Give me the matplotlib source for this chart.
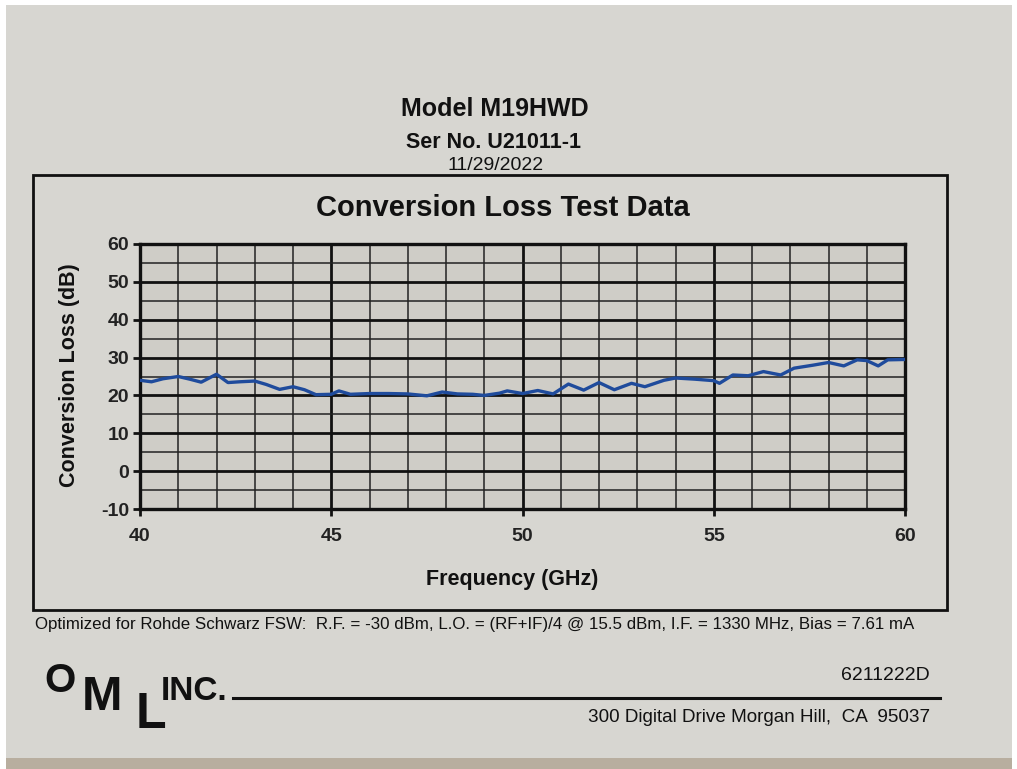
import matplotlib
matplotlib.use("Agg")
import matplotlib.pyplot as plt
from matplotlib.patches import Rectangle
from matplotlib.lines import Line2D
from matplotlib.ticker import MultipleLocator

# ---- data ----
freq_ghz = [40.0, 40.3, 40.6, 41.0, 41.3, 41.6, 42.0, 42.3, 42.6, 43.0, 43.3, 43.65,
            44.0, 44.3, 44.6, 45.0, 45.2, 45.5, 46.0, 46.5, 47.0, 47.5, 47.9, 48.3,
            48.7, 49.0, 49.4, 49.6, 50.0, 50.4, 50.8, 51.2, 51.6, 52.0, 52.4, 52.85,
            53.2, 53.7, 54.0, 54.5, 55.0, 55.15, 55.5, 55.9, 56.3, 56.75, 57.1, 57.6,
            58.0, 58.4, 58.75, 59.0, 59.3, 59.55, 60.0]
conv_loss_db = [24.0, 23.6, 24.4, 25.0, 24.3, 23.5, 25.6, 23.4, 23.6, 23.8, 22.9, 21.6,
                22.3, 21.5, 20.2, 20.3, 21.2, 20.3, 20.5, 20.5, 20.4, 19.9, 20.9, 20.4,
                20.3, 20.0, 20.6, 21.2, 20.5, 21.3, 20.4, 23.0, 21.4, 23.4, 21.5, 23.2,
                22.3, 24.0, 24.6, 24.3, 23.9, 23.2, 25.4, 25.2, 26.3, 25.4, 27.2, 28.0,
                28.7, 27.8, 29.4, 29.2, 27.8, 29.4, 29.5]
x_ticks = [40, 45, 50, 55, 60]
y_ticks = [-10, 0, 10, 20, 30, 40, 50, 60]

W, H = 1017, 769
PAPER = "#d7d6d1"
PLOT_BG = "#cfcdc7"
INK = "#111111"
FONT = "Liberation Sans"

plt.rcParams['font.family'] = [FONT, 'DejaVu Sans']
plt.rcParams['axes.unicode_minus'] = False

fig = plt.figure(figsize=(W / 100, H / 100), dpi=100)
fig.patch.set_facecolor("white")


def fx(x):
    return x / W


def fy(y):
    return 1 - y / H


# paper background (photo of a printed sheet)
fig.add_artist(Rectangle((fx(6), fy(758)), fx(1012) - fx(6), fy(5) - fy(758),
                         transform=fig.transFigure, facecolor=PAPER, edgecolor="none", zorder=0))
fig.add_artist(Rectangle((fx(6), 0), fx(1012) - fx(6), fy(758),
                         transform=fig.transFigure, facecolor="#b8ae9f", edgecolor="none", zorder=0))

# chart frame
fig.add_artist(Rectangle((fx(33), fy(610)), fx(947) - fx(33), fy(175) - fy(610),
                         transform=fig.transFigure, facecolor="none", edgecolor=INK,
                         linewidth=2.0, zorder=2))

# header text
fig.text(fx(495), fy(109), "Model M19HWD", ha="center", va="center",
         fontsize=18, fontweight="bold", color=INK)
fig.text(fx(494), fy(142), "Ser No. U21011-1", ha="center", va="center",
         fontsize=15.5, fontweight="bold", color=INK)
fig.text(fx(496), fy(166), "11/29/2022", ha="center", va="center",
         fontsize=14, color=INK)
fig.text(fx(503), fy(208), "Conversion Loss Test Data", ha="center", va="center",
         fontsize=21, fontweight="bold", color=INK)

# plot axes
ax = fig.add_axes([fx(140), fy(509), fx(905) - fx(140), fy(244) - fy(509)])
ax.set_facecolor(PLOT_BG)
ax.plot(freq_ghz, conv_loss_db, color="#1f4b9c", linewidth=2.4,
        solid_joinstyle="round", solid_capstyle="round", zorder=5)
ax.set_xlim(40, 60)
ax.set_ylim(-10, 60)
ax.set_xticks(x_ticks)
ax.set_yticks(y_ticks)
ax.xaxis.set_minor_locator(MultipleLocator(1))
ax.yaxis.set_minor_locator(MultipleLocator(5))
ax.grid(which="major", color=INK, linewidth=2.0, zorder=1)
ax.grid(which="minor", color="#222222", linewidth=1.1, zorder=1)
ax.set_axisbelow(True)
for s in ax.spines.values():
    s.set_linewidth(2.4)
    s.set_color(INK)
ax.tick_params(which="major", direction="out", length=5, width=2, color=INK,
               labelsize=14)
ax.tick_params(which="minor", length=0)
for lab in ax.get_xticklabels() + ax.get_yticklabels():
    lab.set_fontweight("bold")
    lab.set_color("#222222")
ax.tick_params(axis="x", pad=9)
ax.tick_params(axis="y", pad=3)

fig.text(fx(70), fy(375), "Conversion Loss (dB)", ha="center", va="center",
         rotation=90, fontsize=15.5, fontweight="bold", color=INK)
fig.text(fx(512), fy(579), "Frequency (GHz)", ha="center", va="center",
         fontsize=15.5, fontweight="bold", color=INK)

# footer note
fig.text(fx(35), fy(625),
         "Optimized for Rohde Schwarz FSW:  R.F. = -30 dBm, L.O. = (RF+IF)/4 @ 15.5 dBm, "
         "I.F. = 1330 MHz, Bias = 7.61 mA",
         ha="left", va="center", fontsize=12.2, color=INK)

# OML logo
fig.text(fx(44), fy(692), "O", ha="left", va="baseline", fontsize=29,
         fontweight="bold", color=INK)
fig.text(fx(82), fy(710), "M", ha="left", va="baseline", fontsize=35,
         fontweight="bold", color=INK)
fig.text(fx(136), fy(728), "L", ha="left", va="baseline", fontsize=36,
         fontweight="bold", color=INK)
fig.text(fx(161), fy(700), "INC.", ha="left", va="baseline", fontsize=24,
         fontweight="bold", color=INK)
fig.add_artist(Line2D([fx(233), fx(940)], [fy(698), fy(698)], transform=fig.transFigure,
                      color=INK, linewidth=2.2))
fig.text(fx(930), fy(675), "6211222D", ha="right", va="center", fontsize=14, color=INK)
fig.text(fx(930), fy(718), "300 Digital Drive Morgan Hill,  CA  95037", ha="right",
         va="center", fontsize=13.6, color=INK)

fig.savefig("out.png", dpi=100, facecolor=fig.get_facecolor())
